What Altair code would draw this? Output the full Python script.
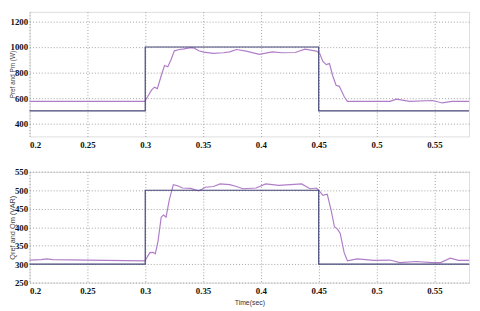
import altair as alt
import pandas as pd

# ---- top panel: active power ----
pref_t = [0.2, 0.3, 0.3, 0.45, 0.45, 0.58]
pref_v = [500, 500, 1000, 1000, 500, 500]

pm_t = [0.2, 0.215, 0.23, 0.26, 0.2997, 0.302, 0.3054, 0.308, 0.3105, 0.3138, 0.3167, 0.3195,
        0.3223, 0.3252, 0.3294, 0.3336, 0.3393, 0.342, 0.3463, 0.3506, 0.359, 0.3675,
        0.3731, 0.3788, 0.3873, 0.3986, 0.4099, 0.4184, 0.4297, 0.4381, 0.448, 0.4508,
        0.4536, 0.4565, 0.4593, 0.4621, 0.465, 0.4678, 0.472, 0.4748, 0.4862, 0.5116,
        0.5172, 0.5286, 0.5483, 0.5568, 0.5653, 0.58]
pm_v = [575, 575, 575, 575, 575, 610, 662, 686, 674, 775, 855, 845,
        900, 970, 980, 985, 995, 993, 970, 960, 950, 955,
        962, 980, 968, 942, 962, 955, 957, 983, 968, 950,
        887, 862, 870, 775, 700, 692, 612, 574, 574, 574,
        592, 574, 581, 562, 574, 574]

# ---- bottom panel: reactive power ----
qref_t = [0.2, 0.3, 0.3, 0.45, 0.45, 0.58]
qref_v = [300, 300, 500, 500, 300, 300]

qm_t = [0.2, 0.21, 0.215, 0.22, 0.25, 0.2997, 0.304, 0.3068, 0.3087, 0.311, 0.3138, 0.3158,
        0.318, 0.3209, 0.3243, 0.328, 0.3322, 0.3393, 0.3463, 0.352, 0.359, 0.3647,
        0.3731, 0.3788, 0.3845, 0.3958, 0.4042, 0.4155, 0.4353, 0.4424, 0.448, 0.4508,
        0.4537, 0.4574, 0.4608, 0.4636, 0.4664, 0.4686, 0.472, 0.4748, 0.4833, 0.4975,
        0.5116, 0.5201, 0.5342, 0.5483, 0.5554, 0.5638, 0.5709, 0.58]
qm_v = [311, 312, 314, 312, 311, 309, 331, 332, 328, 361, 427, 433,
        427, 475, 515, 512, 506, 505, 498, 508, 510, 517,
        515, 510, 504, 506, 517, 513, 517, 504, 506, 497,
        486, 489, 445, 401, 394, 383, 331, 309, 314, 310,
        311, 304, 307, 304, 304, 316, 310, 310]

x_ticks = [0.2, 0.25, 0.3, 0.35, 0.4, 0.45, 0.5, 0.55]
p_ticks = [400, 600, 800, 1000, 1200]
q_ticks = [250, 300, 350, 400, 450, 500, 550]

REF_COLOR = "#45457a"
MEAS_COLOR = "#b07ec8"
SERIF = "serif"


def frame(ref_t, ref_v, meas_t, meas_v):
    a = pd.DataFrame({"t": ref_t, "v": ref_v, "s": "ref", "i": range(len(ref_t))})
    b = pd.DataFrame({"t": meas_t, "v": meas_v, "s": "meas", "i": range(len(meas_t))})
    return pd.concat([b, a], ignore_index=True)


color_scale = alt.Scale(domain=["ref", "meas"], range=[REF_COLOR, MEAS_COLOR])

grid_kw = dict(gridDash=[1, 2], gridColor="#8a8a8a", gridOpacity=1, gridWidth=0.8,
               ticks=False, domain=False, labelFont=SERIF,
               labelFontSize=9, labelColor="#111", labelFontWeight="bold")


def panel(df, ydom, yticks, ytitle, title_size, xtitle, height):
    x_axis = alt.Axis(values=x_ticks, format=".2~f", labelPadding=4, title=xtitle,
                      titleFont="Liberation Sans", titleFontSize=7, titleFontWeight="normal",
                      titleColor="#333", titlePadding=3, **grid_kw)
    y_axis = alt.Axis(values=yticks, format="d", title=ytitle, labelPadding=2,
                      titleFont="Liberation Sans",
                      titleFontSize=title_size, titleFontWeight="normal", titleColor="#444",
                      titleX=-17, titleBaseline="middle", **grid_kw)
    return alt.Chart(df).mark_line(strokeWidth=1.2).encode(
        x=alt.X("t:Q", scale=alt.Scale(domain=[0.2, 0.58], nice=False, zero=False), axis=x_axis),
        y=alt.Y("v:Q", scale=alt.Scale(domain=ydom, nice=False, zero=False), axis=y_axis),
        color=alt.Color("s:N", scale=color_scale, legend=None),
        order="i:Q",
    ).properties(width=448, height=height)


top = panel(frame(pref_t, pref_v, pm_t, pm_v), [300, 1275], p_ticks, "Pref and Pm (W)", 6.5, None, 127)
bottom = panel(frame(qref_t, qref_v, qm_t, qm_v), [250, 550], q_ticks, "Qref and Qm (VAR)", 7.5, "Time(sec)", 113)

chart = alt.vconcat(top, bottom, spacing=36, bounds="flush").properties(
    padding={"left": 0, "top": 0, "right": 0, "bottom": 0}
).configure_view(stroke="#555", strokeWidth=1).configure(background="white")

chart.save("out.html", embed_options={"renderer": "svg", "actions": False})
